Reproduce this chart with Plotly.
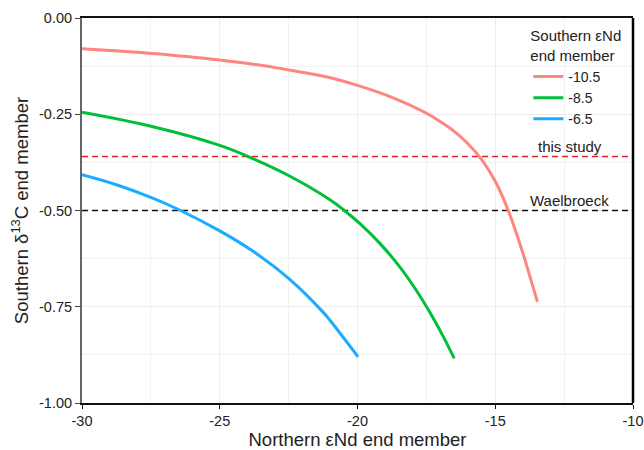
import plotly.graph_objects as go

# Northern eNd end member (x) vs Southern d13C end member (y)
red_x = [-30, -27.46, -26.2, -25, -23.79, -22.49, -21.18, -20, -18.75, -17.48, -17.0, -16.5, -16.0,
         -15.5, -15.0, -14.5, -14.0, -13.75, -13.47]
red_y = [-0.080, -0.092, -0.100, -0.109, -0.120, -0.135, -0.152, -0.175, -0.206, -0.248, -0.269, -0.294, -0.326,
         -0.367, -0.424, -0.505, -0.610, -0.669, -0.737]

green_x = [-30, -27.46, -25, -23.9, -22.45, -21.0, -20.51, -19.9, -19.18, -18.46, -17.85, -17.37,
           -16.89, -16.49]
green_y = [-0.245, -0.282, -0.331, -0.362, -0.411, -0.472, -0.498, -0.535, -0.586, -0.647, -0.709, -0.765,
           -0.827, -0.884]

blue_x = [-30, -28.75, -27.5, -26.48, -25, -23.75, -22.49, -21.25, -21.0, -19.98]
blue_y = [-0.407, -0.433, -0.466, -0.498, -0.553, -0.608, -0.677, -0.764, -0.785, -0.880]

series_names = ["-10.5", "-8.5", "-6.5"]
series_colors = ["#FF857D", "#00BF38", "#1AADFF"]

this_study_y = -0.36
waelbroeck_y = -0.50
ref_x = [-30, -10]
label_x = -12.3

x_ticks = [-30, -25, -20, -15, -10]
y_ticks = [0.0, -0.25, -0.5, -0.75, -1.0]
y_tick_labels = ["0.00", "-0.25", "-0.50", "-0.75", "-1.00"]

fig = go.Figure()

fig.add_trace(go.Scatter(x=ref_x, y=[this_study_y] * 2, mode="lines",
                         line=dict(color="#E0202A", width=1.5, dash="6px,4px"),
                         showlegend=False, hoverinfo="skip"))
fig.add_trace(go.Scatter(x=ref_x, y=[waelbroeck_y] * 2, mode="lines",
                         line=dict(color="#111111", width=1.5, dash="6px,4px"),
                         showlegend=False, hoverinfo="skip"))

for xs, ys, name, col in zip([red_x, green_x, blue_x], [red_y, green_y, blue_y],
                             series_names, series_colors):
    fig.add_trace(go.Scatter(x=xs, y=ys, mode="lines", name=name,
                             line=dict(color=col, width=3, shape="spline", smoothing=1.0)))

fig.add_annotation(x=label_x, y=this_study_y, text="this study", showarrow=False,
                   xanchor="center", yanchor="bottom", yshift=0,
                   font=dict(size=15, color="#222222"))
fig.add_annotation(x=label_x, y=waelbroeck_y, text="Waelbroeck", showarrow=False,
                   xanchor="center", yanchor="bottom", yshift=0,
                   font=dict(size=15, color="#222222"))

# right border
fig.add_shape(type="line", xref="paper", yref="paper", x0=1, x1=1, y0=0, y1=1,
              line=dict(color="black", width=2.5))

fig.update_layout(
    width=644, height=450,
    margin=dict(l=82, r=11, t=18, b=47, autoexpand=False),
    paper_bgcolor="white", plot_bgcolor="white",
    font=dict(family="Liberation Sans, Arial, sans-serif", size=15, color="#222222"),
    legend=dict(
        title=dict(text="Southern εNd<br>end member", font=dict(size=15)),
        x=0.81, y=0.99, xanchor="left", yanchor="top",
        bgcolor="rgba(0,0,0,0)", font=dict(size=14),
        tracegroupgap=0, itemwidth=30,
    ),
    xaxis=dict(
        range=[-30, -10], tickvals=x_ticks, ticktext=[str(v) for v in x_ticks],
        automargin=False,
        showgrid=True, gridcolor="#EDEDED", gridwidth=1.2,
        minor=dict(dtick=2.5, showgrid=True, gridcolor="#F2F2F2", gridwidth=1),
        showline=True, linecolor="#111111", linewidth=2, mirror=True,
        ticks="outside", ticklen=4, tickcolor="#111111",
        zeroline=False,
        title=dict(text="Northern εNd end member", font=dict(size=18.5), standoff=4),
        tickfont=dict(size=14.5),
    ),
    yaxis=dict(
        range=[-1.0, 0.0], tickvals=y_ticks, ticktext=y_tick_labels,
        automargin=False,
        showgrid=True, gridcolor="#EDEDED", gridwidth=1.2,
        minor=dict(dtick=0.125, showgrid=True, gridcolor="#F2F2F2", gridwidth=1),
        showline=True, linecolor="#666666", linewidth=2,
        ticks="outside", ticklen=5, tickcolor="#444444",
        zeroline=False,
        title=dict(text="Southern δ<sup>13</sup>C end member", font=dict(size=18.5), standoff=6),
        tickfont=dict(size=14.5),
    ),
)

fig.write_html("out.html",
               post_script="document.body.style.margin='0';document.documentElement.style.overflow='hidden';")
